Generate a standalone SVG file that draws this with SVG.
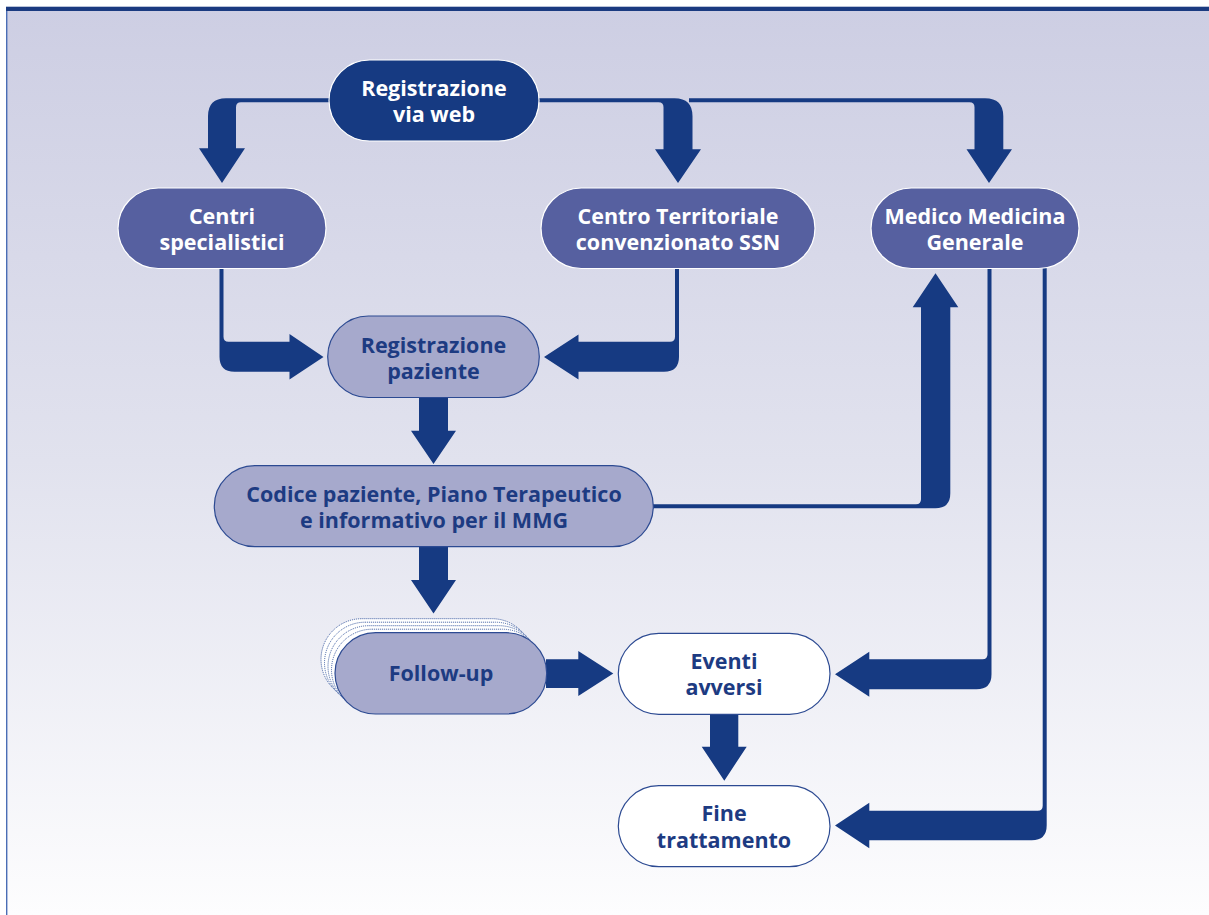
<svg xmlns="http://www.w3.org/2000/svg" width="1209" height="915" viewBox="0 0 1209 915">
  <defs>
    <linearGradient id="panelGrad" x1="0" y1="0" x2="0" y2="1">
      <stop offset="0" stop-color="#cdcee3"/>
      <stop offset="0.5" stop-color="#e1e2ee"/>
      <stop offset="1" stop-color="#fdfdfe"/>
    </linearGradient>
    <style>
      .arrow { fill: #163a82; }
      .dark { fill: #163a82; stroke: #ffffff; stroke-width: 1.2; }
      .mid { fill: #5660a0; stroke: #ffffff; stroke-width: 1.2; }
      .light { fill: #a6a9cc; stroke: #2c4a92; stroke-width: 1.2; }
      .plain { fill: #ffffff; stroke: #2c4a92; stroke-width: 1.2; }
      .ghost { fill: #ffffff; stroke: #3a5aa0; stroke-width: 1; stroke-dasharray: 1 1; }
      text { font-family: "Open Sans", "Liberation Sans", sans-serif; font-weight: 700; font-size: 21.5px; text-anchor: middle; }
      .tw { fill: #ffffff; }
      .tn { fill: #1d3b82; }
    </style>
  </defs>

  <!-- panel background with top rule and left edge -->
  <rect x="6" y="7" width="1203" height="908" fill="url(#panelGrad)"/>
  <rect x="6" y="7" width="1.4" height="908" fill="#4a6db5"/>
  <rect x="6" y="6.7" width="1203" height="4.3" fill="#1a3a80"/>

  <!-- connectors -->
  <g id="connectors">
    <!-- web registration to specialist centres -->
    <path class="arrow" d="M332,98.3 L226,98.3 Q208,98.3 208,116.3 L208,148.3 L199,148.3 L222,183 L245,148.3 L236,148.3 L236,107.3 Q236,102.3 241,102.3 L332,102.3 Z"/>
    <!-- web registration to territorial centre -->
    <path class="arrow" d="M536,98.3 L674.5,98.3 Q692.5,98.3 692.5,116.3 L692.5,149.3 L701,149.3 L678,183 L655,149.3 L663.5,149.3 L663.5,107.3 Q663.5,102.3 658.5,102.3 L536,102.3 Z"/>
    <!-- web registration to general practitioner -->
    <path class="arrow" d="M689,98.3 L985,98.3 Q1003.3,98.3 1003.3,116.3 L1003.3,149.3 L1012,149.3 L989,183 L966.5,149.3 L974.5,149.3 L974.5,107.3 Q974.5,102.3 969.5,102.3 L689,102.3 Z"/>
    <!-- specialist centres to patient registration -->
    <path class="arrow" d="M219.5,268 L223.5,268 L223.5,336.7 Q223.5,341.7 228.5,341.7 L289.5,341.7 L289.5,334 L323.5,357 L289.5,379.5 L289.5,371.7 L234.5,371.7 Q219.5,371.7 219.5,356.7 Z"/>
    <!-- territorial centre to patient registration -->
    <path class="arrow" d="M679,268 L675,268 L675,336.7 Q675,341.7 670,341.7 L578.5,341.7 L578.5,334.5 L544,357 L578.5,379.5 L578.5,371.7 L664,371.7 Q679,371.7 679,356.7 Z"/>
    <!-- patient registration to patient code -->
    <path class="arrow" d="M419,396 L448,396 L448,430.7 L456,430.7 L433.5,464 L411,430.7 L419,430.7 Z"/>
    <!-- patient code to follow-up -->
    <path class="arrow" d="M419,546 L448,546 L448,580 L456,580 L433.5,613.5 L411,580 L419,580 Z"/>
    <!-- patient code to general practitioner -->
    <path class="arrow" d="M652,504.3 L916,504.3 Q921,504.3 921,499.3 L921,307.3 L912.7,307.3 L935.5,273.3 L958.3,307.3 L950.3,307.3 L950.3,493.3 Q950.3,508.3 935.3,508.3 L652,508.3 Z"/>
    <!-- general practitioner to adverse events -->
    <path class="arrow" d="M987.5,268 L991.5,268 L991.5,674.3 Q991.5,689.3 976.5,689.3 L869.3,689.3 L869.3,696.7 L835,674.3 L869.3,651.7 L869.3,659.3 L982.5,659.3 Q987.5,659.3 987.5,654.3 Z"/>
    <!-- general practitioner to end of treatment -->
    <path class="arrow" d="M1042.7,268 L1046.7,268 L1046.7,825.3 Q1046.7,840.3 1031.7,840.3 L869.3,840.3 L869.3,848.3 L835,825.5 L869.3,802.7 L869.3,810.7 L1037.7,810.7 Q1042.7,810.7 1042.7,805.7 Z"/>
    <!-- follow-up to adverse events -->
    <path class="arrow" d="M546,659.3 L578.3,659.3 L578.3,651 L613.3,673.5 L578.3,696 L578.3,688 L546,688 Z"/>
    <!-- adverse events to end of treatment -->
    <path class="arrow" d="M710,714 L738.3,714 L738.3,746.7 L746.7,746.7 L724.3,780.7 L701.7,746.7 L710,746.7 Z"/>
  </g>

  <!-- nodes -->
  <g id="node-web">
    <rect class="dark" x="329" y="60" width="210" height="81" rx="40.5"/>
    <text class="tw" x="434" y="96">Registrazione</text>
    <text class="tw" x="434" y="122">via web</text>
  </g>
  <g id="node-centri">
    <rect class="mid" x="118" y="188" width="208" height="80.5" rx="40.25"/>
    <text class="tw" x="222" y="224">Centri</text>
    <text class="tw" x="222" y="250">specialistici</text>
  </g>
  <g id="node-territoriale">
    <rect class="mid" x="541" y="188" width="274" height="80.5" rx="40.25"/>
    <text class="tw" x="678" y="224">Centro Territoriale</text>
    <text class="tw" x="678" y="250">convenzionato SSN</text>
  </g>
  <g id="node-mmg">
    <rect class="mid" x="871" y="188" width="208" height="80.5" rx="40.25"/>
    <text class="tw" x="975" y="224">Medico Medicina</text>
    <text class="tw" x="975" y="250">Generale</text>
  </g>
  <g id="node-registrazione">
    <rect class="light" x="327.7" y="316" width="211.6" height="81.5" rx="40.75"/>
    <text class="tn" x="433.5" y="352.5">Registrazione</text>
    <text class="tn" x="433.5" y="378.5">paziente</text>
  </g>
  <g id="node-codice">
    <rect class="light" x="214.3" y="465.7" width="439" height="81" rx="40.5"/>
    <text class="tn" x="434" y="501.7">Codice paziente, Piano Terapeutico</text>
    <text class="tn" x="434" y="528">e informativo per il MMG</text>
  </g>
  <g id="node-followup">
    <rect class="ghost" x="321" y="618.7" width="211.7" height="81.3" rx="40.65"/>
    <rect class="ghost" x="324.5" y="622.2" width="211.7" height="81.3" rx="40.65"/>
    <rect class="ghost" x="328" y="625.7" width="211.7" height="81.3" rx="40.65"/>
    <rect class="ghost" x="331.5" y="629.2" width="211.7" height="81.3" rx="40.65"/>
    <rect class="light" x="335" y="632.7" width="211.7" height="81.3" rx="40.65"/>
    <text class="tn" x="441" y="681">Follow-up</text>
  </g>
  <g id="node-eventi">
    <rect class="plain" x="618.3" y="633.3" width="211.7" height="81" rx="40.5"/>
    <text class="tn" x="724" y="668.5">Eventi</text>
    <text class="tn" x="724" y="695">avversi</text>
  </g>
  <g id="node-fine">
    <rect class="plain" x="618.3" y="785.7" width="211.7" height="81" rx="40.5"/>
    <text class="tn" x="724" y="821">Fine</text>
    <text class="tn" x="724" y="847.5">trattamento</text>
  </g>
</svg>
